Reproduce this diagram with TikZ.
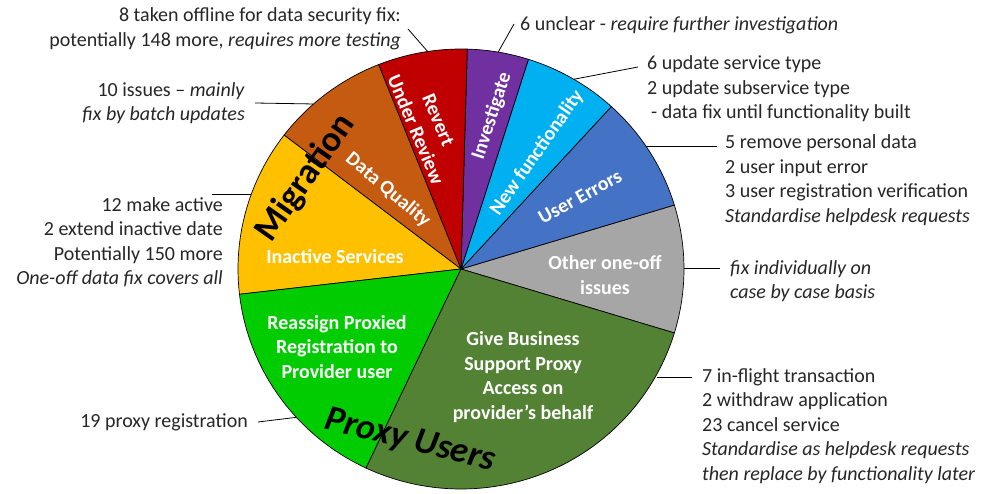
\documentclass[tikz,border=0pt]{standalone}
\usepackage{fontspec}
\setmainfont{Carlito}
\usepackage{tikz}
\definecolor{piegray}{HTML}{A6A6A6}
\definecolor{pieblue}{HTML}{4472C4}
\definecolor{piecyan}{HTML}{00B0F0}
\definecolor{piepurple}{HTML}{7030A0}
\definecolor{piered}{HTML}{C00000}
\definecolor{pieorange}{HTML}{C55A11}
\definecolor{pieyellow}{HTML}{FFC000}
\definecolor{piegreen}{HTML}{00CC00}
\definecolor{pieolive}{HTML}{548235}
\tikzset{
  wedge/.style={draw=black, line width=0.7pt},
  seg/.style={
    text=white, align=center, inner sep=0pt,
    font=\fontsize{20}{24.5}\selectfont\bfseries
  },
  grp/.style={text=black, inner sep=0pt, font=\fontsize{36}{40}\selectfont\bfseries},
  note/.style={text=black!85, inner sep=0pt, font=\fontsize{20}{24.5}\selectfont},
  lead/.style={draw=black, line width=0.8pt}
}

\begin{document}
\begin{tikzpicture}[x=1pt, y=1pt]
    \useasboundingbox (0,0) rectangle (986,493);
    \coordinate (pie) at (461,224);

    % Wedges, anticlockwise from the right-hand side.
    \foreach \from/\to/\col in {-16.9/16.9/piegray, 16.9/47.6/pieblue,
        47.6/72.4/piecyan, 72.4/88.4/piepurple, 88.4/111.7/piered,
        111.7/142.5/pieorange, 142.5/186.6/pieyellow,
        186.6/244.8/piegreen, 244.8/343.1/pieolive}
      \filldraw[wedge, fill=\col] (pie) -- ++(\from:223pt and 220pt)
        arc[start angle=\from, end angle=\to, x radius=223pt, y radius=220pt]
        -- cycle;

    % Wedge labels.
    \node[seg, rotate=-67] (revlbl) at (427,368) {Revert\\Under Review};
    \node[seg, rotate=72] (invlbl) at (492,377) {Investigate};
    \node[seg, rotate=55] (newlbl) at (537,340) {New functionality};
    \node[seg, rotate=29] (userlbl) at (580,296) {User Errors};
    \node[seg] (otherlbl) at (605,218) {Other one-off\\issues};
    \node[seg, rotate=-40] (dqlbl) at (388,303) {Data Quality};
    \node[seg] (inactlbl) at (335,236) {Inactive Services};
    \node[seg] (reasslbl) at (337,146)
      {Reassign Proxied\\Registration to\\Provider user};
    \node[seg] (givelbl) at (523,116)
      {Give Business\\Support Proxy\\Access on\\provider’s behalf};

    % Group headings across the wedges.
    \node[grp, rotate=55] (miggrp) at (306,315) {Migration};
    \node[grp, font=\fontsize{36}{40}\selectfont\bfseries\itshape, rotate=-14]
      (proxgrp) at (410,52) {Proxy Users};

    % Notes on the left.
    \node[note, anchor=east, align=right] (revnote) at (401,464)
      {8 taken offline for data security fix:\\potentially 148 more,
       \textit{requires more testing}};
    \node[note, anchor=east, align=right] (dqnote) at (245,390)
      {10 issues -- \textit{mainly}\\\textit{fix by batch updates}};
    \node[note, anchor=east, align=right] (inactnote) at (223,251)
      {12 make active\\2 extend inactive date\\Potentially 150 more\\
       \textit{One-off data fix covers all}};
    \node[note, anchor=east] (reassnote) at (248,71) {19 proxy registration};

    % Notes on the right.
    \node[note, anchor=west] (invnote) at (520,468)
      {6 unclear - \textit{require further investigation}};
    \node[note, anchor=west, align=left] (newnote) at (647,404)
      {6 update service type\\2 update subservice type\\
       \hspace*{4pt}- data fix until functionality built};
    \node[note, anchor=west, align=left] (usernote) at (725,313)
      {5 remove personal data\\2 user input error\\
       3 user registration verification\\\textit{Standardise helpdesk requests}};
    \node[note, anchor=west, align=left] (othernote) at (730,212)
      {\textit{fix individually on}\\\textit{case by case basis}};
    \node[note, anchor=west, align=left] (givenote) at (702,67)
      {7 in-flight transaction\\2 withdraw application\\23 cancel service\\
       \textit{Standardise as helpdesk requests}\\
       \textit{then replace by functionality later}};

    % Rim points for the leaders.
    \coordinate (revrim) at ([shift={(98.6:223pt and 220pt)}]pie);
    \coordinate (dqrim) at ([shift={(131.4:223pt and 220pt)}]pie);
    \coordinate (inactrim) at ([shift={(160.3:223pt and 220pt)}]pie);
    \coordinate (reassrim) at ([shift={(222.4:223pt and 220pt)}]pie);
    \coordinate (invrim) at ([shift={(80.4:223pt and 220pt)}]pie);
    \coordinate (newrim) at ([shift={(59.6:223pt and 220pt)}]pie);
    \coordinate (userrim) at ([shift={(33.8:223pt and 220pt)}]pie);
    \coordinate (otherrim) at ([shift={(0.4:223pt and 220pt)}]pie);
    \coordinate (giverim) at ([shift={(-28.6:223pt and 220pt)}]pie);

    % Free ends next to the notes.
    \coordinate (inacttip) at (212,299);
    \coordinate (newtip) at (638,426);
    \coordinate (usertip) at (717,347);
    \coordinate (othertip) at (720,225);
    \coordinate (givetip) at (692,116);

    \draw[lead] ([xshift=7pt]revnote.east) -- (revrim);
    \draw[lead] ([xshift=10pt]dqnote.east) -- (dqrim);
    \draw[lead] (inacttip) -- (inacttip -| inactrim);
    \draw[lead] ([xshift=10pt]reassnote.east) -- (reassrim);
    \draw[lead] ([xshift=-6pt,yshift=1pt]invnote.west) -- (invrim);
    \draw[lead] (newtip) -- (newrim);
    \draw[lead] (usertip) -- (usertip -| userrim);
    \draw[lead] (othertip) -- (othertip -| otherrim);
    \draw[lead] (givetip) -- (givetip -| giverim);
  \end{tikzpicture}
\end{document}
